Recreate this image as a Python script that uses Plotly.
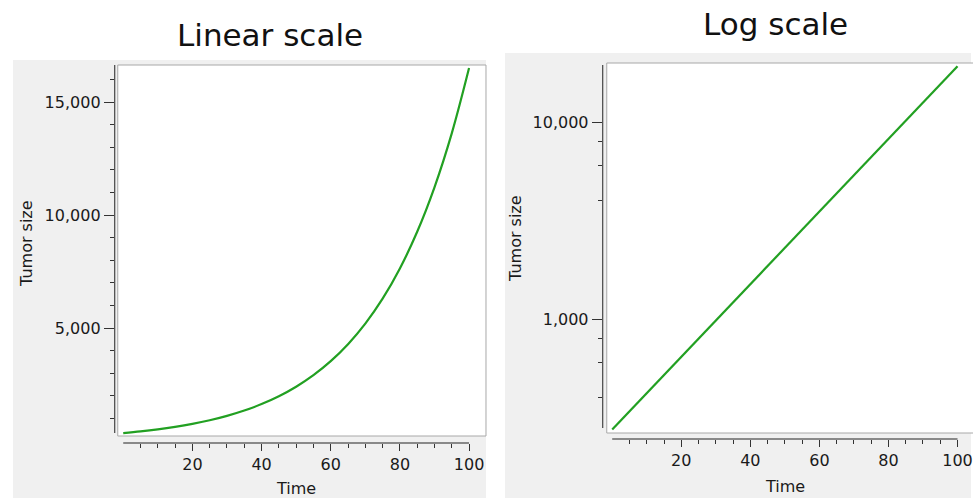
import plotly.graph_objects as go

# ---- data ----
time = [0, 5, 10, 15, 20, 25, 30, 35, 40, 45, 50, 55, 60, 65, 70, 75, 80, 85, 90, 95, 100]
size_linear_panel = [350, 424, 514, 624, 756, 917, 1112, 1348, 1634, 1982, 2403, 2913,
                     3532, 4283, 5193, 6297, 7635, 9258, 11225, 13611, 16500]
size_log_panel = [275, 340, 420, 520, 643, 795, 983, 1216, 1503, 1859, 2298, 2842,
                  3514, 4345, 5373, 6643, 8215, 10157, 12560, 15530, 19200]

x_major = [20, 40, 60, 80, 100]
x_minor = [5, 10, 15, 25, 30, 35, 45, 50, 55, 65, 70, 75, 85, 90, 95]
lin_major = [5000, 10000, 15000]
lin_major_labels = ["5,000", "10,000", "15,000"]
lin_minor = [1000, 2000, 3000, 4000, 6000, 7000, 8000, 9000, 11000, 12000, 13000, 14000, 16000]
log_major = [1000, 10000]
log_major_labels = ["1,000", "10,000"]
log_minor = [400, 600, 800, 4000, 6000, 8000]

titles = ["Linear scale", "Log scale"]
x_title = "Time"
y_title = "Tumor size"

# ---- styling ----
W, H = 973, 498
GREEN = "rgb(34,160,34)"
PANEL = "#f0f0f0"
TICKC = "#333333"
FONT = "DejaVu Sans"

def px(x):
    return x / W

def py(y):
    return (H - y) / H

fig = go.Figure()
fig.add_trace(go.Scatter(x=time, y=size_linear_panel, mode="lines", line=dict(color=GREEN, width=2.2, shape="spline"),
                         xaxis="x", yaxis="y", showlegend=False))
fig.add_trace(go.Scatter(x=time, y=size_log_panel, mode="lines", line=dict(color=GREEN, width=2.2),
                         xaxis="x2", yaxis="y2", showlegend=False))

def xaxis_cfg(domain, rng, anchor):
    return dict(domain=domain, range=rng, anchor=anchor, showline=False, showgrid=False, zeroline=False,
                tickmode="array", tickvals=x_major, ticktext=[str(v) for v in x_major],
                ticks="outside", ticklen=7, tickcolor=TICKC, tickwidth=1, ticklabeloverflow="allow",
                tickfont=dict(family=FONT, size=16, color="#1a1a1a"),
                minor=dict(tickmode="array", tickvals=x_minor, ticks="outside", ticklen=4, tickcolor=TICKC, tickwidth=1))

def yaxis_cfg(domain, rng, anchor, tv, tt, mv, typ):
    return dict(domain=domain, range=rng, anchor=anchor, type=typ, showline=False, showgrid=False, zeroline=False,
                tickmode="array", tickvals=tv, ticktext=tt,
                ticks="outside", ticklen=10, tickcolor=TICKC, tickwidth=1,
                tickfont=dict(family=FONT, size=16, color="#1a1a1a"),
                minor=dict(tickmode="array", tickvals=mv, ticks="outside", ticklen=4, tickcolor=TICKC, tickwidth=1))

# panel geometry (pixels)
L_x0, L_x1, L_ytop, L_ybot = 115, 487, 65, 443
R_x0, R_x1, R_ytop, R_ybot = 604, 973, 63, 439

fig.update_layout(
    width=W, height=H, margin=dict(l=0, r=0, t=0, b=0),
    paper_bgcolor="white", plot_bgcolor="rgba(0,0,0,0)",
    xaxis=xaxis_cfg([px(L_x0), px(L_x1)], [-2.45, 104.9], "y"),
    yaxis=yaxis_cfg([py(L_ybot), py(L_ytop)], [-88, 16637], "x", lin_major, lin_major_labels, lin_minor, "linear"),
    xaxis2=xaxis_cfg([px(R_x0), px(R_x1)], [-2.74, 103.9], "y2"),
    yaxis2=yaxis_cfg([py(R_ybot), py(R_ytop)], [2.391, 4.2995], "x2", log_major, log_major_labels, log_minor, "log"),
)

shapes = [
    # gray panels
    dict(type="rect", xref="paper", yref="paper", x0=px(13), x1=px(487), y0=0, y1=py(60),
         fillcolor=PANEL, line=dict(width=0), layer="below"),
    dict(type="rect", xref="paper", yref="paper", x0=px(506), x1=1, y0=0, y1=py(53),
         fillcolor=PANEL, line=dict(width=0), layer="below"),
    # white plot boxes
    dict(type="rect", xref="x domain", yref="y domain",
         x0=(118 - L_x0) / (L_x1 - L_x0), x1=1.0, y0=(L_ybot - 436) / (L_ybot - L_ytop), y1=1.0,
         fillcolor="white", line=dict(color="#a8a8a8", width=1), layer="below"),
    dict(type="rect", xref="x2 domain", yref="y2 domain",
         x0=(608 - R_x0) / (R_x1 - R_x0), x1=1.02, y0=(R_ybot - 433) / (R_ybot - R_ytop), y1=1.0,
         fillcolor="white", line=dict(color="#a8a8a8", width=1), layer="below"),
    # axis lines
    dict(type="line", xref="x domain", yref="y domain", x0=0, x1=0,
         y0=(L_ybot - 433) / (L_ybot - L_ytop), y1=1.0, line=dict(color="#222", width=1)),
    dict(type="line", xref="x", yref="y domain", x0=0, x1=100, y0=0, y1=0, line=dict(color="#222", width=1)),
    dict(type="line", xref="x2 domain", yref="y2 domain", x0=0, x1=0,
         y0=(R_ybot - 428) / (R_ybot - R_ytop), y1=(R_ybot - 65) / (R_ybot - R_ytop), line=dict(color="#222", width=1)),
    dict(type="line", xref="x2", yref="y2 domain", x0=0, x1=100, y0=0, y1=0, line=dict(color="#222", width=1)),
]
fig.update_layout(shapes=shapes)

ann = [
    dict(text=titles[0], x=px(271), y=py(35), font=dict(family=FONT, size=31, color="#111")),
    dict(text=titles[1], x=px(777), y=py(24), font=dict(family=FONT, size=31, color="#111")),
    dict(text=y_title, x=px(27), y=py(243), textangle=-90, font=dict(family=FONT, size=16, color="#1a1a1a")),
    dict(text=y_title, x=px(517), y=py(238), textangle=-90, font=dict(family=FONT, size=16, color="#1a1a1a")),
    dict(text=x_title, x=px(297), y=py(488), font=dict(family=FONT, size=16, color="#1a1a1a")),
    dict(text=x_title, x=px(787), y=py(486), font=dict(family=FONT, size=16, color="#1a1a1a")),
]
for a in ann:
    a.update(xref="paper", yref="paper", xanchor="center", yanchor="middle", showarrow=False)
fig.update_layout(annotations=ann)

fig.write_html("out.html")
